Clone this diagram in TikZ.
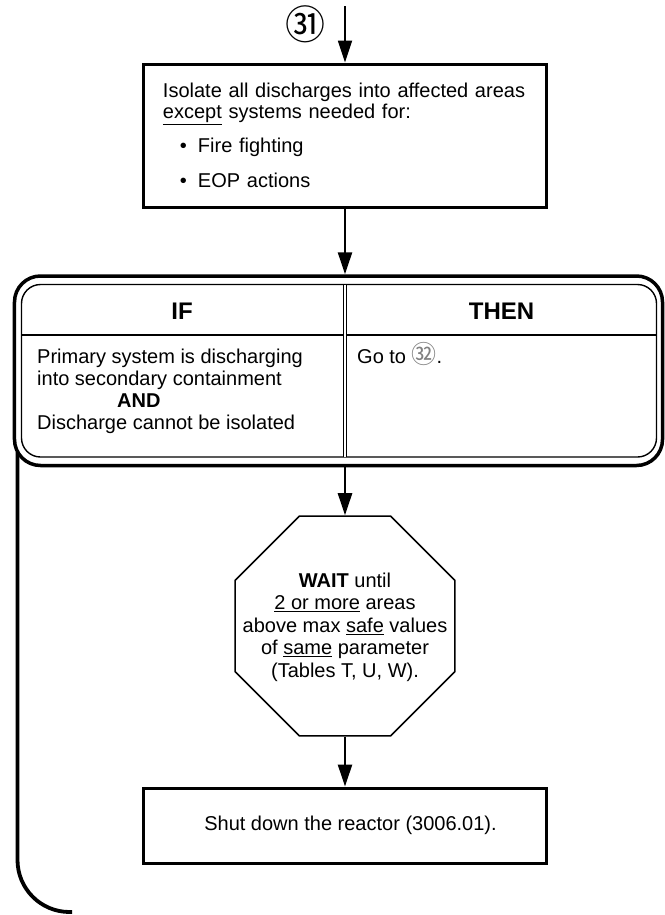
\documentclass[tikz,border=0pt]{standalone}
\usepackage{fontspec}
\setmainfont{Liberation Sans}
\newfontfamily\cjk{Noto Sans CJK SC}
\usetikzlibrary{arrows.meta,shapes.geometric}
\begin{document}
\begin{tikzpicture}[x=1bp,y=-1bp,
  font=\fontsize{20bp}{22bp}\selectfont,
  flowbox/.style={draw, line width=3bp, rectangle, minimum width=402bp, inner sep=0bp},
  arr/.style={line width=2.5bp, -{Triangle[width=14bp,length=22bp]}},
  headtext/.style={font=\bfseries\fontsize{24bp}{24bp}\selectfont},
  bodytext/.style={inner sep=0bp, align=left, font=\fontsize{20bp}{22bp}\selectfont}]
\useasboundingbox (0,0) rectangle (665,915);

% step 31
\node[font=\cjk\fontsize{40bp}{40bp}\selectfont, inner sep=0bp] (c31) at (305,24) {㉛};
\coordinate (topin) at (345,6);

\node[flowbox, minimum height=143bp, text width=364bp, inner xsep=19bp, align=left,
      font=\fontsize{20bp}{21bp}\selectfont] (isolate) at (345,135.5)
  {Isolate all discharges into affected areas\\
   \underline{except} systems needed for:\\[13bp]
   \hspace*{17bp}•\hspace{11bp}Fire fighting\\[14bp]
   \hspace*{17bp}•\hspace{11bp}EOP actions};

% IF/THEN table
\node[draw, line width=3.5bp, rounded corners=26bp, minimum width=648bp, minimum height=189.5bp, inner sep=0bp] (table) at (338.5,370.75) {};
\node[draw, line width=1.4bp, rounded corners=19bp, minimum width=635bp, minimum height=172.5bp, inner sep=0bp] (tablein) at (339,370.75) {};
\draw[line width=2.5bp] (21.5,335) -- (656.5,335);
\draw[line width=1.2bp, double, double distance=2.4bp] (345,284.5) -- (345,457);
\node[headtext] (ifhead) at (182,311) {IF};
\node[headtext] (thenhead) at (501.5,311) {THEN};
\node[bodytext, anchor=north west] (ifbody) at (37,349)
  {Primary system is discharging\\into secondary containment\\\hspace*{80bp}\textbf{AND}\\Discharge cannot be isolated};
\node[anchor=base west, inner sep=0bp] (goto) at (357,363.5) {Go to {\cjk\fontsize{25bp}{25bp}\selectfont\color{gray}㉜}.};

% WAIT octagon
\node[draw, regular polygon, regular polygon sides=8, minimum size=238bp, line width=1.6bp, inner sep=0bp] (wait) at (345,626) {};
\node[align=center, font=\fontsize{20bp}{22.5bp}\selectfont] (waittext) at (345,627)
  {\textbf{WAIT} until\\ \underline{2 or more} areas\\ above max \underline{safe} values\\ of \underline{same} parameter\\ (Tables T, U, W).};

% shut down box
\node[flowbox, minimum height=75bp] (shut) at (345,825.5) {\hspace*{11bp}Shut down the reactor (3006.01).};

% loop line
\coordinate (loopstart) at (17.5,452);
\coordinate (loopend) at (72,912);
\draw[line width=3.8bp, rounded corners=52bp] (loopstart) -- (loopstart |- loopend) -- (loopend);

% connectors
\draw[arr, line width=1.8bp] (topin) -- (isolate.north);
\draw[arr] (isolate.south) -- (isolate.south |- table.north);
\draw[arr] (wait.north |- table.south) -- (wait.north);
\draw[arr] (wait.south) -- (shut.north);
\end{tikzpicture}
\end{document}
